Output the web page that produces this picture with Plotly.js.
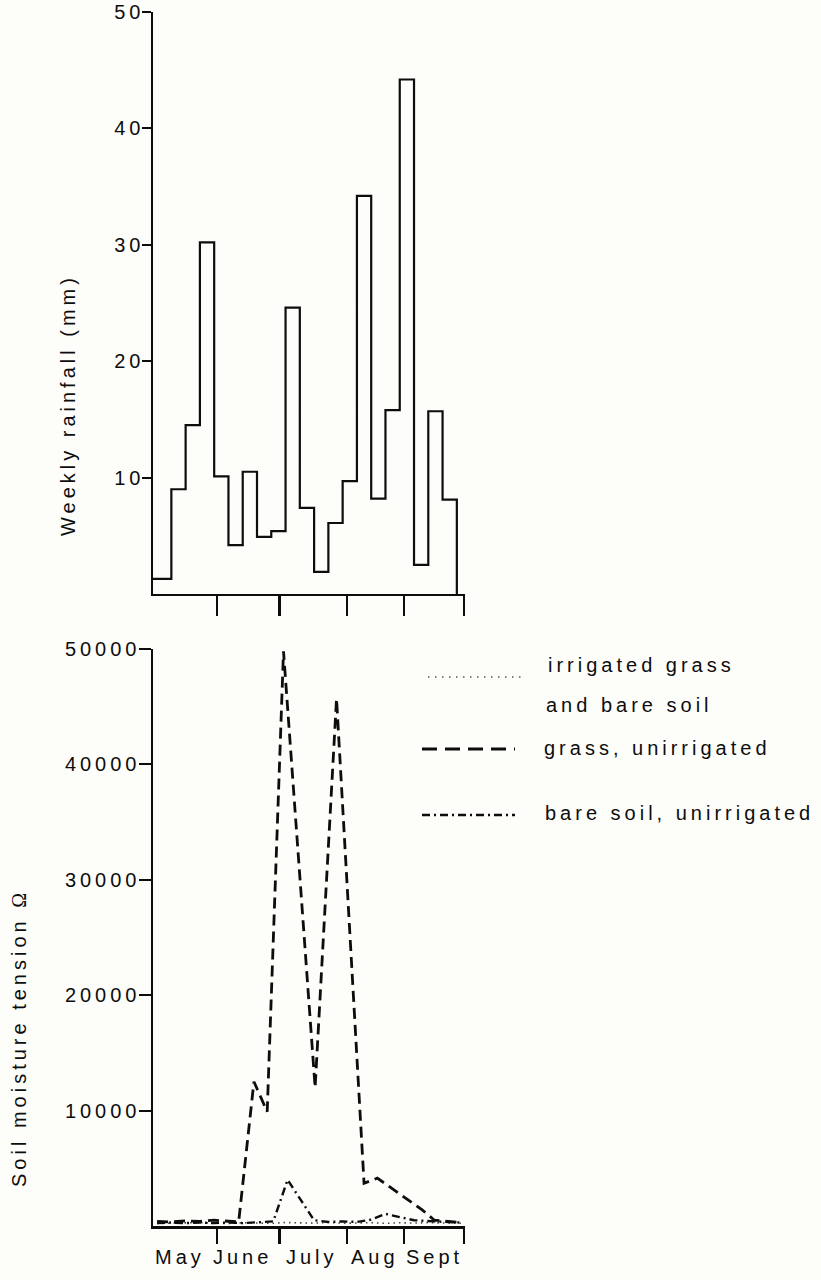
<!DOCTYPE html>
<html>
<head>
<meta charset="utf-8">
<script src="https://cdn.plot.ly/plotly-3.0.1.min.js"></script>
<style>
  body { margin: 0; background: #fdfdfa; }
  svg text { letter-spacing: 4px; }
</style>
</head>
<body>
<div id="chart" style="width:821px;height:1280px;"></div>
<script>
// ---------- data ----------
// top panel: weekly rainfall (mm); x = day since start of May
const weekStartDay = [0, 9, 16, 23, 30, 37, 44, 51, 58, 65, 72, 79, 86, 93, 100, 107, 114, 121, 128, 135, 142];
const lastWeekEndDay = 149;
const weeklyRainfall = [1.3, 9.0, 14.5, 30.2, 10.1, 4.2, 10.5, 4.9, 5.4, 24.6, 7.4, 1.9, 6.1, 9.7, 34.2, 8.2, 15.8, 44.2, 2.5, 15.7, 8.1];
const rainTickVals = [10, 20, 30, 40, 50];
const rainTickText = ['10', '20', '30', '40', '50'];

// bottom panel: soil moisture tension (ohm)
const grassDay = [2, 9, 16, 23, 30, 37, 42, 49.5, 56, 64, 79.5, 90, 103.5, 110, 132, 138, 151];
const grassTension = [400, 350, 450, 400, 500, 450, 350, 12500, 9900, 49800, 12000, 45700, 3700, 4150, 1400, 500, 300];

const bareDay = [2, 9, 16, 23, 30, 37, 44, 51, 59, 66, 79, 86, 93, 100, 107, 114, 128, 138, 151];
const bareTension = [250, 300, 250, 300, 250, 300, 250, 300, 400, 4000, 500, 350, 400, 350, 550, 1050, 500, 400, 300];

const irrigatedDay = [2, 9, 16, 23, 30, 37, 44, 51, 58, 65, 72, 79, 86, 93, 100, 107, 114, 121, 128, 135, 142, 151];
const irrigatedTension = [220, 260, 240, 300, 250, 210, 280, 260, 230, 300, 270, 250, 310, 240, 260, 290, 230, 280, 250, 300, 260, 240];

const tensionTickVals = [10000, 20000, 30000, 40000, 50000];
const tensionTickText = ['10000', '20000', '30000', '40000', '50000'];

// month axis
const monthBoundaryDay = [31.5, 62, 95, 123, 152.5];
const monthLabelDay = [13, 44, 78, 109, 138];
const monthLabels = ['May', 'June', 'July', 'Aug', 'Sept'];

const legendLabels = ['irrigated grass', 'and bare soil', 'grass, unirrigated', 'bare soil, unirrigated'];

// ---------- chart ----------
const INK = '#0d0d0d';
const FONT = 'Liberation Sans, Arial, Helvetica, sans-serif';

const traces = [
  {
    x: weekStartDay.concat([lastWeekEndDay]),
    y: weeklyRainfall.concat([0]),
    xaxis: 'x', yaxis: 'y',
    type: 'scatter', mode: 'lines',
    line: { shape: 'hv', color: INK, width: 2.2 },
    hoverinfo: 'skip'
  },
  {
    x: irrigatedDay, y: irrigatedTension,
    xaxis: 'x2', yaxis: 'y2', type: 'scatter', mode: 'lines',
    line: { color: '#444', width: 1.6, dash: '1.5px,4px' }, hoverinfo: 'skip'
  },
  {
    x: bareDay, y: bareTension,
    xaxis: 'x2', yaxis: 'y2', type: 'scatter', mode: 'lines',
    line: { color: INK, width: 2.4, dash: '8px,4px,2px,4px' }, hoverinfo: 'skip'
  },
  {
    x: grassDay, y: grassTension,
    xaxis: 'x2', yaxis: 'y2', type: 'scatter', mode: 'lines',
    line: { color: INK, width: 2.8, dash: '11px,6px' }, hoverinfo: 'skip'
  }
];

const baseX = {
  range: [0, 153], autorange: false, showgrid: false, zeroline: false,
  showline: true, linewidth: 2.5, linecolor: INK,
  ticks: 'outside', tickwidth: 2.2, tickcolor: INK,
  tickvals: monthBoundaryDay, showticklabels: false
};
const baseY = {
  autorange: false, showgrid: false, zeroline: false,
  showline: true, linewidth: 2.5, linecolor: INK,
  ticks: 'outside', tickwidth: 2, tickcolor: INK,
  tickfont: { family: FONT, size: 20, color: INK }
};

function paperX(px) { return (px - 153) / 312; }
function paperY(py) { return (1226 - py) / 1214; }

const legendRows = [
  { y: 677, dash: '1.5px,5.5px', width: 1.5, color: '#555', x0: 428, x1: 522 },
  { y: 749, dash: '15px,8px', width: 2.8, color: INK, x0: 422, x1: 515 },
  { y: 815, dash: '8px,4px,2px,4px', width: 2.4, color: INK, x0: 422, x1: 515 }
];

const shapes = legendRows.map(r => ({
  type: 'line', xref: 'paper', yref: 'paper',
  x0: paperX(r.x0), x1: paperX(r.x1), y0: paperY(r.y), y1: paperY(r.y),
  line: { color: r.color, width: r.width, dash: r.dash }
}));

const legendTextPos = [[546, 665], [544, 705], [542, 748], [543, 813]];

const annotations = [
  {
    text: 'Weekly rainfall (mm)', textangle: -90,
    xref: 'paper', yref: 'paper', x: paperX(68), y: paperY(405),
    xanchor: 'center', yanchor: 'middle',
    showarrow: false, font: { family: FONT, size: 20, color: INK }
  },
  {
    text: 'Soil moisture tension <span style="font-family:Liberation Serif, serif">Ω</span>', textangle: -90,
    xref: 'paper', yref: 'paper', x: paperX(19), y: paperY(1038),
    xanchor: 'center', yanchor: 'middle',
    showarrow: false, font: { family: FONT, size: 20, color: INK }
  }
].concat(legendLabels.map((t, i) => ({
  text: t, xref: 'paper', yref: 'paper',
  x: paperX(legendTextPos[i][0]), y: paperY(legendTextPos[i][1]),
  xanchor: 'left', yanchor: 'middle', showarrow: false,
  font: { family: FONT, size: 20, color: INK }
}))).concat(monthLabels.map((m, i) => ({
  text: m, xref: 'x2', yref: 'paper',
  x: monthLabelDay[i], y: paperY(1257),
  xanchor: 'center', yanchor: 'middle', showarrow: false,
  font: { family: FONT, size: 20, color: INK }
})));

const layout = {
  width: 821, height: 1280,
  paper_bgcolor: '#fdfdfa', plot_bgcolor: 'rgba(0,0,0,0)',
  margin: { l: 153, r: 356, t: 12, b: 54 },
  showlegend: false,
  font: { family: FONT, size: 20, color: INK },
  xaxis: Object.assign({}, baseX, { domain: [0, 1], anchor: 'y', ticklen: 20 }),
  yaxis: Object.assign({}, baseY, { domain: [0.5206, 1], anchor: 'x', range: [0, 50],
    tickvals: rainTickVals, ticktext: rainTickText, ticklen: 9, ticklabelstandoff: -7 }),
  xaxis2: Object.assign({}, baseX, { domain: [0, 1], anchor: 'y2', ticklen: 15 }),
  yaxis2: Object.assign({}, baseY, { domain: [0, 0.4753], anchor: 'x2', range: [0, 50000],
    tickvals: tensionTickVals, ticktext: tensionTickText, ticklen: 12, ticklabelstandoff: -6 }),
  shapes: shapes,
  annotations: annotations
};

Plotly.newPlot('chart', traces, layout, { staticPlot: true, displayModeBar: false });
</script>
</body>
</html>
